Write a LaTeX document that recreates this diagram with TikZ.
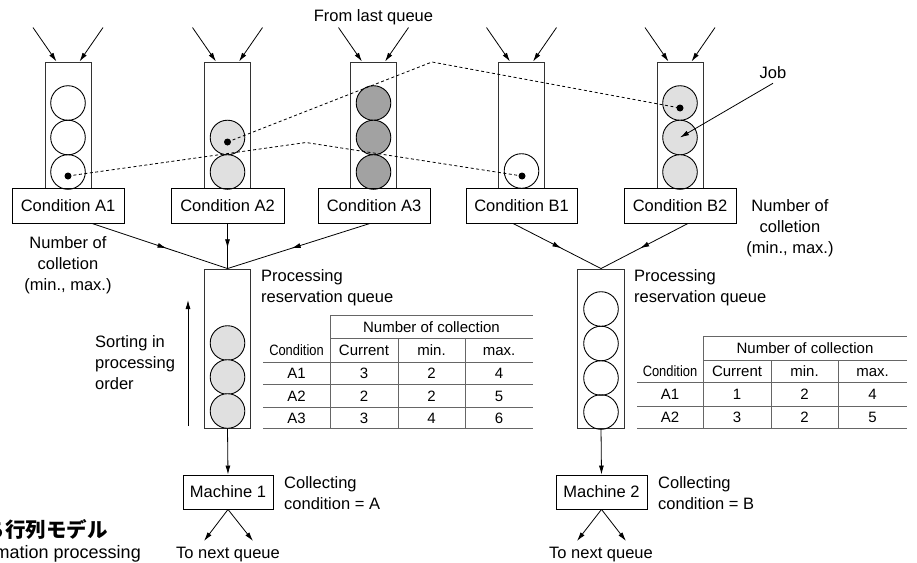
\documentclass[tikz,border=0pt]{standalone}
\usepackage{fontspec}
\usepackage{graphicx}
\setmainfont{Liberation Sans}
\newfontfamily\cjk{Noto Sans CJK JP}
\usetikzlibrary{arrows.meta,decorations.markings,calc}
\definecolor{lightfill}{HTML}{E0E0E0}
\definecolor{darkfill}{HTML}{A2A2A2}
\definecolor{tubeline}{HTML}{333333}
\definecolor{tableline}{HTML}{666666}
\begin{document}
\begin{tikzpicture}[x=1pt,y=-1pt,
 font=\fontsize{16.5}{21}\selectfont,
 every node/.style={inner sep=0pt},
 tube/.style={draw=tubeline,line width=0.9pt,minimum width=46pt,minimum height=126pt},
 ptube/.style={draw=tubeline,line width=0.9pt,minimum width=46.5pt,minimum height=159pt},
 condbox/.style={draw,line width=0.9pt,minimum width=112pt,minimum height=35pt},
 machbox/.style={draw,line width=0.9pt,minimum width=90pt,minimum height=34pt},
 job/.style={circle,draw=black,line width=0.9pt,minimum size=34.6pt},
 lightjob/.style={job,fill=lightfill},
 darkjob/.style={job,fill=darkfill},
 dot/.style={circle,fill=black,minimum size=7pt},
 arr/.style={line width=0.8pt,-{Latex[length=9pt,width=5pt]}},
 midarr/.style={line width=0.8pt,decoration={markings,mark=at position 0.55 with {\arrow{Latex[length=9pt,width=5pt]}}},postaction={decorate}},
 dashline/.style={line width=0.8pt,dash pattern=on 3pt off 2.5pt},
 tline/.style={draw=tableline,line width=0.9pt},
 tcell/.style={font=\fontsize{15}{18}\selectfont,text height=11pt,text depth=0pt},
 lbl/.style={align=center},
 lbll/.style={align=left},
]
\clip (0,0) rectangle (917,562);

% upper queues
\node[tube] (tA1) at (68,125) {};
\node[tube] (tA2) at (227.5,125) {};
\node[tube] (tA3) at (373.5,125) {};
\node[tube] (tB1) at (521.5,125) {};
\node[tube] (tB2) at (680,125) {};

\foreach \t in {tA1,tA2,tA3,tB1,tB2}{
  \draw[arr] ([xshift=-35pt,yshift=34pt]\t.north) -- ([xshift=-11.5pt]\t.north);
  \draw[arr] ([xshift=35pt,yshift=34pt]\t.north) -- ([xshift=11.5pt]\t.north);
}
\node (from) at (373.5,17) {From last queue};

% jobs
\node[job] (jA1a) at (68,103) {};
\node[job] (jA1b) at (68,137.5) {};
\node[job] (jA1c) at (68,172) {};
\node[lightjob] (jA2b) at (227.5,137.5) {};
\node[lightjob] (jA2c) at (227.5,172) {};
\node[darkjob] (jA3a) at (373.5,103) {};
\node[darkjob] (jA3b) at (373.5,137.5) {};
\node[darkjob] (jA3c) at (373.5,172) {};
\node[job] (jB1c) at (521.5,171) {};
\node[lightjob] (jB2a) at (680,103) {};
\node[lightjob] (jB2b) at (680,137.5) {};
\node[lightjob] (jB2c) at (680,172) {};

% condition boxes
\node[condbox] (cA1) at (68,205.5) {Condition A1};
\node[condbox,minimum width=113pt] (cA2) at (227.5,205.5) {Condition A2};
\node[condbox] (cA3) at (374,205.5) {Condition A3};
\node[condbox,minimum width=111pt] (cB1) at (521.5,205.5) {Condition B1};
\node[condbox] (cB2) at (680,205.5) {Condition B2};

% dots and dashed links
\node[dot] (dA1) at (68,176) {};
\node[dot] (dA2) at (227.5,142) {};
\node[dot] (dB1) at (522,176) {};
\node[dot] (dB2) at (680,108) {};
\coordinate (bnd1) at (306,142.5);
\coordinate (bnd2) at (432,62);
\draw[dashline] (dA1.center) -- (bnd1) -- (dB1.center);
\draw[dashline] (dA2.center) -- (bnd2) -- (dB2.center);

% job label
\node (joblbl) at (773,73) {Job};
\draw[arr] ([yshift=-4pt]joblbl.south) -- (jB2b.center);

% processing queues
\node[ptube] (qA) at (227.5,348.5) {};
\node[ptube] (qB) at (601,348.5) {};
\node[lightjob] (qA1) at (227.5,343) {};
\node[lightjob] (qA2) at (227.5,377) {};
\node[lightjob] (qA3) at (227.5,411) {};
\node[job] (qB1) at (601,309) {};
\node[job] (qB2) at (601,343.5) {};
\node[job] (qB3) at (601,378) {};
\node[job] (qB4) at (601,412) {};

% condition -> queue
\draw[midarr] ([xshift=24pt]cA1.south) -- (qA.north);
\draw[midarr] (cA2.south) -- (qA.north);
\draw[midarr] ([xshift=-4pt]cA3.south) -- (qA.north);
\draw[midarr] ([xshift=-8.5pt]cB1.south) -- (qB.north);
\draw[midarr] ([xshift=8pt]cB2.south) -- (qB.north);

% labels
\node[lbl] (ncl) at (68,265) {Number of\\colletion\\(min., max.)};
\node[lbl] (ncr) at (790,228) {Number of\\colletion\\(min., max.)};
\node[lbll,anchor=west] (prl) at (261,287.5) {Processing\\reservation queue};
\node[lbll,anchor=west] (prr) at (634,287.5) {Processing\\reservation queue};
\node[lbll,anchor=west] (sort) at (95,363) {Sorting in\\processing\\order};
\coordinate (sortlo) at (188,426);
\coordinate (sorthi) at (188,300);
\draw[arr] (sortlo) -- (sorthi);

% machines
\node[machbox] (m1) at (228,492) {Machine 1};
\node[machbox,minimum width=91pt] (m2) at (601.5,492) {Machine 2};
\draw[arr] (qA.south) -- (m1.north);
\draw[arr] (qB.south) -- (m2.north);
\node[lbll,anchor=west] (col1) at (284,493.5) {Collecting\\condition = A};
\node[lbll,anchor=west] (col2) at (658,493.5) {Collecting\\condition = B};
\coordinate (o1l) at (204,541);
\coordinate (o1r) at (253,541);
\coordinate (o2l) at (577,541);
\coordinate (o2r) at (626,541);
\draw[arr] (m1.south) -- (o1l);
\draw[arr] (m1.south) -- (o1r);
\draw[arr] (m2.south) -- (o2l);
\draw[arr] (m2.south) -- (o2r);
\node (nx1) at (228,555) {To next queue};
\node (nx2) at (601,555) {To next queue};

% left table
\draw[tline] (330,315) -- (533,315);
\draw[tline] (330,338) -- (533,338);
\draw[tline] (263,362) -- (533,362);
\draw[tline] (263,384) -- (533,384);
\draw[tline] (263,407) -- (533,407);
\draw[tline] (263,428) -- (533,428);
\draw[tline] (330,315) -- (330,428);
\draw[tline] (398,338) -- (398,428);
\draw[tline] (465,338) -- (465,428);
\node[tcell] (lh) at (431.5,326.5) {Number of collection};
\node[tcell] (lc0) at (296.5,350) {\scalebox{0.86}[1]{Condition}};
\node[tcell] (lc1) at (364,350) {Current};
\node[tcell] (lc2) at (431.5,350) {min.};
\node[tcell] (lc3) at (499,350) {max.};
\node[tcell] (l10) at (296.5,373) {A1};
\node[tcell] (l11) at (364,373) {3};
\node[tcell] (l12) at (431.5,373) {2};
\node[tcell] (l13) at (499,373) {4};
\node[tcell] (l20) at (296.5,395.5) {A2};
\node[tcell] (l21) at (364,395.5) {2};
\node[tcell] (l22) at (431.5,395.5) {2};
\node[tcell] (l23) at (499,395.5) {5};
\node[tcell] (l30) at (296.5,417.5) {A3};
\node[tcell] (l31) at (364,417.5) {3};
\node[tcell] (l32) at (431.5,417.5) {4};
\node[tcell] (l33) at (499,417.5) {6};

% right table
\draw[tline] (703,336) -- (907,336);
\draw[tline] (703,360) -- (907,360);
\draw[tline] (637,382) -- (907,382);
\draw[tline] (637,406) -- (907,406);
\draw[tline] (637,428) -- (907,428);
\draw[tline] (703,336) -- (703,428);
\draw[tline] (771,360) -- (771,428);
\draw[tline] (838,360) -- (838,428);
\node[tcell] (rh) at (805,348) {Number of collection};
\node[tcell] (rc0) at (670,371) {\scalebox{0.86}[1]{Condition}};
\node[tcell] (rc1) at (737,371) {Current};
\node[tcell] (rc2) at (804.5,371) {min.};
\node[tcell] (rc3) at (872.5,371) {max.};
\node[tcell] (r10) at (670,394) {A1};
\node[tcell] (r11) at (737,394) {1};
\node[tcell] (r12) at (804.5,394) {2};
\node[tcell] (r13) at (872.5,394) {4};
\node[tcell] (r20) at (670,417) {A2};
\node[tcell] (r21) at (737,417) {3};
\node[tcell] (r22) at (804.5,417) {2};
\node[tcell] (r23) at (872.5,417) {5};

% cropped caption fragments (the reference cuts them at its left edge)
\node[anchor=base east,font=\cjk\bfseries\fontsize{20.5}{24}\selectfont] (capjp) at (108,537) {待ち行列モデル};
\node[anchor=base east,font=\fontsize{18}{22}\selectfont] (capen) at (141,558) {Information processing};
\end{tikzpicture}
\end{document}
